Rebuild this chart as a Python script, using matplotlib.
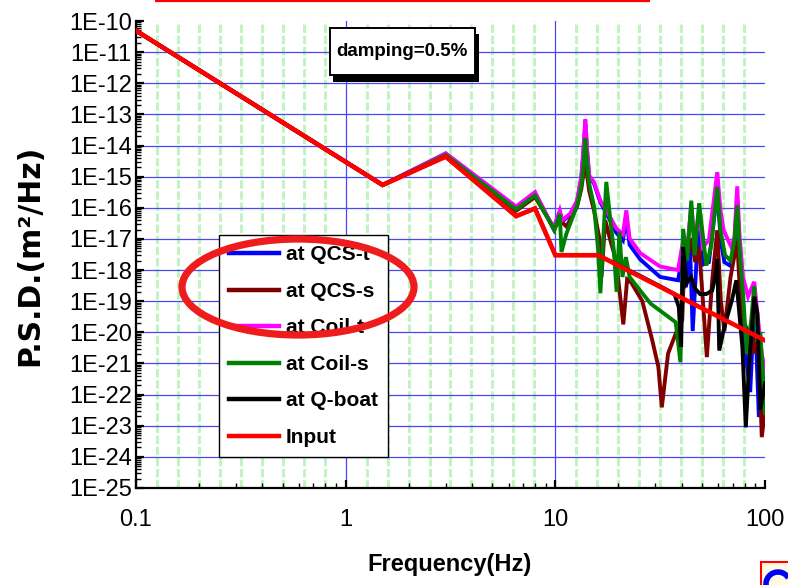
import numpy as np
import matplotlib
matplotlib.use('Agg')
import matplotlib.pyplot as plt
from matplotlib.patches import Ellipse, Rectangle, Arc
from matplotlib.ticker import FixedLocator, FixedFormatter, LogLocator, NullFormatter

plt.rcParams['font.family'] = ['Liberation Sans', 'DejaVu Sans']
plt.rcParams['lines.scale_dashes'] = False

# PSD curves, frequency in Hz, PSD in m^2/Hz
freq_input = [0.1, 1.5, 3.0, 6.5, 8.0, 10.0, 16.0, 100.0]
psd_input = [4.9e-11, 5.4e-16, 4.4e-15, 5.4e-17, 9.5e-17, 3.0e-18, 3.0e-18, 5.5e-21]

freq_qcs_t = [0.1, 1.5, 3.0, 6.5, 8.0, 9.8, 10.5, 10.8, 11.8, 12.7, 13.3, 13.6, 13.9, 14.2, 14.5,
              15.3, 16.4, 17.8, 19.5, 21.0, 21.8, 22.6, 25.4, 31.6, 38.5, 40.7, 42.0, 43.8, 45.2,
              47.0, 48.5, 50.5, 54.0, 59.2, 61.5, 64.0, 68.0, 71.0, 73.7, 76.0, 79.0, 82.0, 85.0,
              88.8, 91.0, 93.5, 96.0, 100.0]
psd_qcs_t = [4.9e-11, 5.4e-16, 5.5e-15, 1.05e-16, 3.0e-16, 2.1e-17, 7.0e-17, 3.6e-17, 6.3e-17,
             1.6e-16, 9.0e-16, 6.0e-15, 5.0e-14, 5.5e-15, 1.0e-15, 6.0e-16, 1.5e-16, 5.5e-17,
             1.6e-17, 9.0e-18, 5.0e-17, 6.5e-18, 2.2e-18, 6.0e-19, 4.7e-19, 4.4e-18, 2.8e-19,
             9.0e-18, 1.1e-20, 1.4e-18, 1.9e-17, 1.5e-18, 1.8e-18, 3.7e-16, 9.0e-18, 1.8e-18,
             1.4e-18, 3.0e-18, 1.7e-16, 1.8e-18, 1.1e-20, 8.7e-22, 1.2e-22, 7.4e-20, 2.6e-21,
             1.9e-23, 1.2e-21, 9.3e-23]

freq_qcs_s = [0.1, 1.5, 3.0, 6.5, 8.0, 9.9, 10.5, 11.3, 12.7, 13.3, 13.6, 13.9, 14.2, 14.5, 15.3,
              16.2, 16.6, 17.3, 18.3, 19.5, 21.1, 22.0, 23.0, 26.0, 29.0, 31.0, 32.2, 33.2, 34.5,
              37.5, 40.3, 41.5, 43.0, 44.5, 46.5, 48.5, 52.8, 56.0, 59.2, 61.5, 64.0, 68.5, 73.7,
              77.0, 83.0, 88.0, 91.0, 94.0, 96.5, 100.0]
psd_qcs_s = [4.9e-11, 5.4e-16, 4.8e-15, 8.0e-17, 2.2e-16, 2.2e-17, 4.0e-17, 2.5e-17, 1.1e-16,
             4.0e-16, 1.2e-15, 5.0e-15, 1.0e-15, 3.5e-16, 8.0e-17, 1.1e-17, 6.0e-19, 4.0e-17,
             9.0e-18, 2.0e-18, 1.8e-20, 5.0e-19, 4.0e-19, 1.0e-19, 5.5e-21, 7.8e-22, 3.9e-23,
             2.3e-22, 2.1e-21, 9.0e-21, 2.5e-20, 7.2e-18, 3.8e-18, 1.05e-17, 1.8e-18, 5.4e-18,
             1.6e-21, 4.7e-19, 1.9e-17, 1.1e-19, 1.1e-20, 6.0e-19, 9.0e-18, 3.2e-20, 1.1e-20,
             2.1e-21, 1.1e-20, 1.0e-21, 4.3e-24, 3.2e-23]

freq_coil_t = [0.1, 1.5, 3.0, 6.5, 8.0, 9.8, 10.5, 10.8, 11.8, 12.7, 13.3, 13.6, 13.9, 14.2, 14.5,
               15.3, 16.4, 17.8, 19.5, 21.0, 21.8, 22.6, 25.4, 31.6, 38.5, 40.7, 42.5, 44.5, 46.2,
               48.5, 50.5, 54.0, 59.2, 61.3, 63.5, 67.0, 69.0, 71.5, 73.7, 75.5, 78.5, 83.0, 88.8,
               91.0, 94.0, 96.5, 100.0]
psd_coil_t = [4.9e-11, 5.4e-16, 5.6e-15, 1.1e-16, 3.2e-16, 2.2e-17, 8.3e-17, 4.0e-17, 6.6e-17,
              1.7e-16, 1.0e-15, 7.0e-15, 6.9e-14, 6.5e-15, 1.1e-15, 6.6e-16, 1.7e-16, 6.8e-17,
              2.2e-17, 1.4e-17, 8.3e-17, 1.05e-17, 3.5e-18, 1.3e-18, 1.0e-18, 9.0e-18, 4.4e-18,
              1.2e-16, 7.2e-18, 8.3e-17, 5.5e-18, 9.1e-18, 1.4e-15, 8.3e-17, 1.9e-17, 8.5e-18,
              5.6e-18, 1.15e-17, 4.9e-16, 1.5e-17, 6.0e-19, 1.4e-19, 4.2e-19, 8.5e-20, 1.0e-20,
              2.0e-21, 6.0e-22]

freq_coil_s = [0.1, 1.5, 3.0, 6.5, 8.0, 9.9, 10.5, 10.7, 11.3, 12.7, 13.3, 13.6, 13.9, 14.2, 14.5,
               15.3, 16.0, 16.4, 17.5, 18.3, 19.0, 19.6, 20.2, 20.9, 21.7, 22.6, 25.4, 28.5, 33.0,
               37.5, 39.5, 40.7, 42.5, 44.5, 46.2, 48.5, 52.5, 55.5, 59.2, 61.3, 64.5, 68.5, 71.5,
               73.7, 76.0, 78.5, 82.0, 86.0, 88.8, 92.0, 95.0, 100.0]
psd_coil_s = [4.9e-11, 5.4e-16, 5.0e-15, 8.9e-17, 2.5e-16, 1.9e-17, 6.3e-17, 3.8e-18, 1.5e-17,
              1.2e-16, 5.0e-16, 2.0e-15, 1.7e-14, 2.5e-15, 6.0e-16, 1.1e-16, 4.4e-18, 1.8e-19,
              6.8e-16, 4.0e-17, 4.4e-18, 2.0e-19, 1.7e-17, 6.0e-19, 2.6e-18, 6.0e-19, 2.2e-19,
              8.3e-20, 4.0e-20, 2.1e-20, 1.1e-21, 2.1e-17, 2.0e-18, 1.7e-16, 3.0e-18, 1.4e-16,
              1.4e-18, 6.3e-18, 4.7e-16, 1.9e-17, 3.0e-18, 2.0e-18, 9.0e-18, 1.2e-16, 2.7e-18,
              1.8e-19, 2.0e-21, 2.5e-20, 3.0e-19, 5.0e-21, 1.0e-20, 2.5e-23]

freq_q_boat = [0.1, 1.5, 3.0, 6.5, 8.0, 10.0, 16.0, 25.4, 33.0, 37.0, 38.8, 39.8, 40.7, 42.2, 44.3,
               46.5, 49.0, 52.5, 56.0, 58.3, 59.2, 60.5, 64.0, 69.5, 73.0, 78.0, 81.0, 84.0, 89.0,
               92.0, 95.0, 100.0]
psd_q_boat = [4.9e-11, 5.4e-16, 4.4e-15, 5.4e-17, 9.5e-17, 3.0e-18, 3.0e-18, 6.5e-19, 2.6e-19,
              1.7e-19, 6.5e-20, 3.4e-21, 5.5e-18, 3.7e-19, 6.0e-19, 2.5e-19, 1.7e-19, 1.7e-19,
              2.2e-19, 8.0e-19, 2.3e-18, 2.6e-21, 1.5e-20, 1.07e-19, 4.7e-19, 3.4e-21, 8.9e-24,
              1.0e-21, 1.4e-19, 4.0e-20, 3.2e-23, 2.3e-22]

series = [
    ('at QCS-t', freq_qcs_t, psd_qcs_t, '#0000ff'),
    ('at QCS-s', freq_qcs_s, psd_qcs_s, '#800000'),
    ('at Coil-t', freq_coil_t, psd_coil_t, '#ff00ff'),
    ('at Coil-s', freq_coil_s, psd_coil_s, '#008000'),
    ('at Q-boat', freq_q_boat, psd_q_boat, '#000000'),
    ('Input', freq_input, psd_input, '#ff0000'),
]

y_exponents = list(range(10, 26))
x_ticks = [0.1, 1, 10, 100]
x_ticklabels = ['0.1', '1', '10', '100']

W, H = 788, 585
fig = plt.figure(figsize=(W / 100, H / 100), dpi=100)
fig.patch.set_facecolor('white')

# plot area in pixels: x 136..765, y 21..488
ax = fig.add_axes([136 / W, 1 - 488 / H, (765 - 136) / W, (488 - 21) / H])
ax.set_xscale('log')
ax.set_yscale('log')
ax.set_xlim(0.1, 100)
ax.set_ylim(1e-25, 1e-10)

# light green minor grid, 10 columns per decade
for d in (-1, 0, 1):
    for k in range(1, 10):
        ax.axvline(10.0 ** (d + k / 10), color='#c2f4c2', lw=2.2,
                   ls=(0, (6.0, 2.0)), zorder=0.5)
for n in y_exponents[1:-1]:
    ax.axhline(10.0 ** -n, color='#4848f4', lw=0.9, zorder=1)
for xv in (1, 10):
    ax.axvline(xv, color='#4848f4', lw=0.9, zorder=1)

lines = []
for label, f, p, c in series:
    lw = 3.3 if label == 'Input' else 2.8
    ln, = ax.plot(f, p, color=c, lw=lw, label=label, zorder=3, solid_joinstyle='miter')
    lines.append(ln)

for side in ('top', 'right'):
    ax.spines[side].set_visible(False)
for side in ('left', 'bottom'):
    ax.spines[side].set_linewidth(1.6)

ax.yaxis.set_major_locator(FixedLocator([10.0 ** -n for n in y_exponents]))
ax.yaxis.set_major_formatter(FixedFormatter(['1E-%d' % n for n in y_exponents]))
ax.yaxis.set_minor_locator(LogLocator(base=10, subs=np.arange(2, 10), numticks=100))
ax.yaxis.set_minor_formatter(NullFormatter())
ax.xaxis.set_major_locator(FixedLocator(x_ticks))
ax.xaxis.set_major_formatter(FixedFormatter(x_ticklabels))
ax.xaxis.set_minor_locator(LogLocator(base=10, subs=np.arange(2, 10), numticks=100))
ax.xaxis.set_minor_formatter(NullFormatter())

ax.tick_params(which='major', direction='in', length=6, width=1.6, labelsize=17)
ax.tick_params(which='minor', direction='in', length=3.5, width=1.0)
ax.tick_params(axis='y', which='major', pad=3)
ax.tick_params(axis='x', which='major', pad=15)

leg = ax.legend(handles=lines, loc='upper left', bbox_to_anchor=(219 / W, 1 - 235 / H),
                bbox_transform=fig.transFigure, frameon=True, fancybox=False,
                edgecolor='black', framealpha=1, borderaxespad=0, borderpad=0.5,
                handlelength=2.4, handletextpad=0.3, labelspacing=0.84,
                prop={'weight': 'bold', 'size': 15})
leg.get_frame().set_linewidth(1.0)
for lh in leg.get_lines():
    lh.set_linewidth(3.2)
leg.set_zorder(5)

# overlay in pixel coordinates for labels and the annotation shapes
ov = fig.add_axes([0, 0, 1, 1], zorder=10)
ov.set_xlim(0, W)
ov.set_ylim(H, 0)
ov.axis('off')
ov.patch.set_visible(False)

ov.text(450, 564, 'Frequency(Hz)', ha='center', va='center', fontsize=17, fontweight='bold')
ov.text(30, 255, 'P.S.D.(m²/Hz)', ha='center', va='center', rotation=90,
        fontsize=21.5, fontweight='bold', family=['DejaVu Sans'])

ov.add_patch(Rectangle((333, 34), 146, 48, facecolor='black', edgecolor='none'))
ov.add_patch(Rectangle((330, 28), 145, 47, facecolor='white', edgecolor='black', lw=1.4))
ov.text(402, 51, 'damping=0.5%', ha='center', va='center', fontsize=13.5, fontweight='bold')

ov.add_patch(Ellipse((298, 287), 232, 96, fill=False, edgecolor='#ee1c1c', lw=5.2))

ov.plot([155, 650], [1, 1], color='#ff0000', lw=1.6, solid_capstyle='butt')
ov.add_patch(Rectangle((761, 562), 40, 30, facecolor='#fffbe0', edgecolor='#ff0000', lw=1.5))
ov.add_patch(Arc((778, 584), 24, 24, theta1=150, theta2=330, color='#0000ff', lw=4))

fig.savefig('out.png', dpi=100)
